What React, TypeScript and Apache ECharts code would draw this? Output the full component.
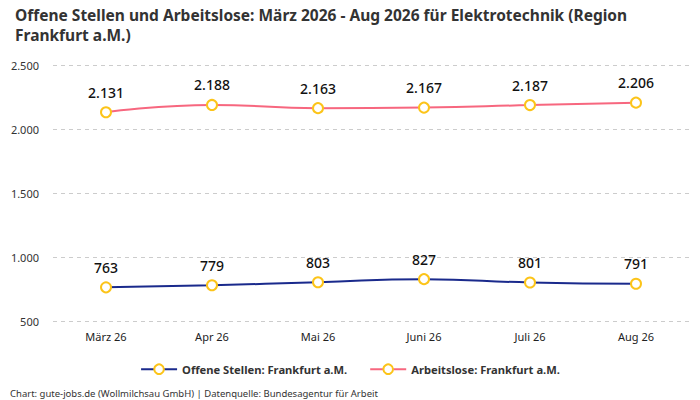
import React, { useEffect, useRef } from 'react'
import * as echarts from 'echarts'

const months = ['März 26', 'Apr 26', 'Mai 26', 'Juni 26', 'Juli 26', 'Aug 26']
const offeneStellen = [763, 779, 803, 827, 801, 791]
const arbeitslose = [2131, 2188, 2163, 2167, 2187, 2206]

const FONT = '"Noto Sans", sans-serif'

const fmt = (v: number) => v.toLocaleString('de-DE')

const App: React.FC = () => {
  const chartRef = useRef<HTMLDivElement>(null)

  useEffect(() => {
    if (!chartRef.current) return
    const chart = echarts.init(chartRef.current, undefined, { renderer: 'svg' })

    const seriesBase = {
      type: 'line' as const,
      smooth: true,
      symbol: 'circle',
      symbolSize: 10,
      lineStyle: { width: 2 },
      label: {
        show: true,
        position: 'top' as const,
        distance: 7,
        fontSize: 14,
        fontWeight: 500,
        color: '#111',
        fontFamily: FONT,
        formatter: (p: any) => fmt(p.value),
      },
    }

    chart.setOption({
      animation: false,
      textStyle: { fontFamily: FONT },
      title: {
        text: 'Offene Stellen und Arbeitslose: März 2026 - Aug 2026 für Elektrotechnik (Region\nFrankfurt a.M.)',
        left: 10,
        top: 0,
        textStyle: {
          fontSize: 15.5,
          fontWeight: 'bold',
          color: '#333',
          lineHeight: 20,
          fontFamily: FONT,
        },
      },
      grid: { left: 53, right: 11, top: 65, bottom: 79 },
      xAxis: {
        type: 'category',
        data: months,
        axisLine: { show: false },
        axisTick: { show: false },
        axisLabel: { fontSize: 11, color: '#222', margin: 10 },
      },
      yAxis: {
        type: 'value',
        min: 500,
        max: 2500,
        interval: 500,
        axisLabel: {
          fontSize: 11,
          color: '#333',
          margin: 14,
          formatter: (v: number) => fmt(v),
        },
        splitLine: { lineStyle: { type: [4, 4], color: '#cccccc' } },
      },
      legend: {
        bottom: 20,
        left: 'center',
        itemGap: 22,
        itemWidth: 36,
        itemHeight: 12,
        textStyle: { fontSize: 11.2, fontWeight: 'bold', color: '#333' },
        data: ['Offene Stellen: Frankfurt a.M.', 'Arbeitslose: Frankfurt a.M.'],
      },
      graphic: [
        {
          type: 'text',
          left: 10,
          bottom: 2,
          style: {
            text: 'Chart: gute-jobs.de (Wollmilchsau GmbH) | Datenquelle: Bundesagentur für Arbeit',
            fontSize: 9.5,
            fill: '#333',
            fontFamily: FONT,
          },
        },
      ],
      series: [
        {
          ...seriesBase,
          name: 'Offene Stellen: Frankfurt a.M.',
          data: offeneStellen,
          color: '#1a2a8c',
          itemStyle: { color: '#fff', borderColor: '#fcc419', borderWidth: 2 },
          lineStyle: { width: 2, color: '#1a2a8c' },
        },
        {
          ...seriesBase,
          name: 'Arbeitslose: Frankfurt a.M.',
          data: arbeitslose,
          color: '#f7677f',
          itemStyle: { color: '#fff', borderColor: '#fcc419', borderWidth: 2 },
          lineStyle: { width: 2, color: '#f7677f' },
        },
      ],
    })

    return () => {
      chart.dispose()
    }
  }, [])

  return (
    <div
      ref={chartRef}
      style={{ position: 'fixed', left: 0, top: 0, width: 700, height: 400, background: '#fff' }}
    />
  )
}

export default App
